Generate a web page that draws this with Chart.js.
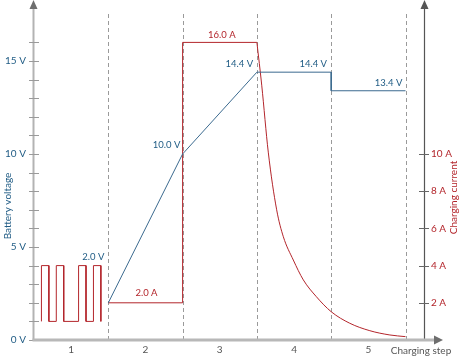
<!DOCTYPE html>
<html><head><meta charset="utf-8">
<script src="https://cdn.jsdelivr.net/npm/chart.js@4"></script>
<style>html,body{margin:0;padding:0;background:#fff}#wrap{width:460px;height:356px;position:relative}</style>
</head><body><div id="wrap"><canvas id="c"></canvas></div>
<script>
// ---- data ----
const steps = ['1','2','3','4','5'];
const voltageX = [1, 2, 3, 4, 4, 5];
const voltageV = [2.0, 10.0, 14.4, 14.4, 13.4, 13.4];
const pulseX = [0.1,0.1,0.2,0.2,0.3,0.3,0.4,0.4,0.6,0.6,0.7,0.7,0.8,0.8,0.9,0.9];
const pulseA = [1,4,4,1,1,4,4,1,1,4,4,1,1,4,4,1];
const currentX = [1, 2, 2, 3];
const currentA = [2, 2, 16, 16];
const decayX = [3, 3.065, 3.153, 3.266, 3.356, 3.49, 3.625, 3.8, 4.0, 4.25, 4.52, 4.79, 5.0];
const decayA = [16, 13.7, 10.1, 7.0, 5.55, 4.3, 3.23, 2.33, 1.52, 0.9, 0.5, 0.27, 0.18];
const voltTicks = [0, 5, 10, 15];
const voltMinorTicks = [0,1,2,3,4,5,6,7,8,9,10,11,12,13,14,15,16];
const ampTicks = [2, 4, 6, 8, 10];
const stepBounds = [1, 2, 3, 4, 5];
const voltLabels = ['2.0 V', '10.0 V', '14.4 V', '14.4 V', '13.4 V'];
const ampLabels = ['2.0 A', '16.0 A'];

const BLUE = '#1f5b84', BLUE_LINE = '#3b6a8f', RED = '#b3252b', GRAY_TXT = '#555';
const FONT = 'Lato, "Open Sans", sans-serif';
const pts = (xs, ys) => xs.map((x, i) => ({x, y: ys[i]}));

const decor = {
  id: 'decor',
  beforeDatasetsDraw(chart) {
    const {ctx, scales: {x, y}} = chart;
    ctx.save();
    ctx.strokeStyle = '#9a9a9a'; ctx.lineWidth = 1; ctx.setLineDash([4, 3]);
    stepBounds.forEach(b => {
      const px = Math.round(x.getPixelForValue(b)) + 0.5;
      ctx.beginPath(); ctx.moveTo(px, 14); ctx.lineTo(px, y.getPixelForValue(0)); ctx.stroke();
    });
    ctx.restore();
  },
  afterDatasetsDraw(chart) {
    const {ctx, scales: {x, y, y1}} = chart;
    const x0 = x.getPixelForValue(0), yb = y.getPixelForValue(0);
    const xr = x.getPixelForValue(x.max);
    ctx.save();
    // left axis
    ctx.strokeStyle = '#b3b3b3'; ctx.lineWidth = 2;
    ctx.beginPath(); ctx.moveTo(x0 - 0.5, yb); ctx.lineTo(x0 - 0.5, 6); ctx.stroke();
    ctx.fillStyle = '#6e6e6e';
    ctx.beginPath(); ctx.moveTo(x0 - 0.5, 0); ctx.lineTo(x0 - 4.5, 9); ctx.lineTo(x0 + 3.5, 9); ctx.closePath(); ctx.fill();
    // left ticks
    ctx.strokeStyle = '#9a9a9a'; ctx.lineWidth = 1;
    voltMinorTicks.forEach(v => {
      const py = Math.round(y.getPixelForValue(v)) + 0.5;
      ctx.beginPath(); ctx.moveTo(x0 - 5, py); ctx.lineTo(x0 + 5, py); ctx.stroke();
    });
    // right axis
    ctx.strokeStyle = '#555'; ctx.lineWidth = 1.2;
    ctx.beginPath(); ctx.moveTo(xr + 0.5, yb); ctx.lineTo(xr + 0.5, 6); ctx.stroke();
    ctx.fillStyle = '#555';
    ctx.beginPath(); ctx.moveTo(xr + 0.5, 0); ctx.lineTo(xr - 3.5, 9); ctx.lineTo(xr + 4.5, 9); ctx.closePath(); ctx.fill();
    ampTicks.forEach(v => {
      const py = Math.round(y1.getPixelForValue(v)) + 0.5;
      ctx.strokeStyle = '#666'; ctx.lineWidth = 1;
      ctx.beginPath(); ctx.moveTo(xr - 5, py); ctx.lineTo(xr + 5, py); ctx.stroke();
    });
    // x axis
    ctx.strokeStyle = '#b8b8b8'; ctx.lineWidth = 3;
    ctx.beginPath(); ctx.moveTo(x0 - 1.5, yb); ctx.lineTo(xr + 12, yb); ctx.stroke();
    ctx.fillStyle = '#6e6e6e';
    ctx.beginPath(); ctx.moveTo(xr + 19, yb); ctx.lineTo(xr + 10, yb - 4.5); ctx.lineTo(xr + 10, yb + 4.5); ctx.closePath(); ctx.fill();
    // titles
    ctx.font = '10px ' + FONT; ctx.textAlign = 'center'; ctx.textBaseline = 'middle';
    ctx.fillStyle = GRAY_TXT; ctx.fillText('Charging step', 421, 350.5);
    ctx.save(); ctx.translate(7.5, 206); ctx.rotate(-Math.PI / 2);
    ctx.fillStyle = BLUE; ctx.fillText('Battery voltage', 0, 0); ctx.restore();
    ctx.save(); ctx.translate(453.5, 197.5); ctx.rotate(-Math.PI / 2);
    ctx.fillStyle = RED; ctx.fillText('Charging current', 0, 0); ctx.restore();
    // value labels
    ctx.font = '9.5px ' + FONT;
    const vOff = [[-15, -46], [-16, -9], [-17.5, -8.5], [-18, -8.5], [-17, -8.3]];
    const vIdx = [0, 1, 2, 3, 5];
    ctx.fillStyle = BLUE;
    vIdx.forEach((k, i) => {
      const px = x.getPixelForValue(voltageX[k]), py = y.getPixelForValue(voltageV[k]);
      ctx.fillText(voltLabels[i], px + vOff[i][0], py + vOff[i][1]);
    });
    ctx.fillStyle = RED;
    const a1x = x.getPixelForValue((currentX[0] + currentX[1]) / 2), a1y = y1.getPixelForValue(currentA[0]);
    ctx.fillText(ampLabels[0], a1x + 1, a1y - 10);
    const a2x = x.getPixelForValue((currentX[2] + currentX[3]) / 2), a2y = y1.getPixelForValue(currentA[2]);
    ctx.fillText(ampLabels[1], a2x + 2, a2y - 7.5);
    ctx.restore();
  }
};

const noPad = s => { s.paddingTop = 0; s.paddingBottom = 0; s.paddingLeft = 0; s.paddingRight = 0; };
const YMAX = 338 / 18.6;
new Chart(document.getElementById('c'), {
  type: 'line',
  data: {
    datasets: [
      {data: pts(voltageX, voltageV), borderColor: BLUE_LINE, borderWidth: 1, pointRadius: 0, yAxisID: 'y', tension: 0},
      {data: pts(pulseX, pulseA), borderColor: RED, borderWidth: 1, pointRadius: 0, yAxisID: 'y1', tension: 0},
      {data: pts(currentX, currentA), borderColor: RED, borderWidth: 1, pointRadius: 0, yAxisID: 'y1', tension: 0},
      {data: pts(decayX, decayA), borderColor: RED, borderWidth: 1, pointRadius: 0, yAxisID: 'y1', cubicInterpolationMode: 'monotone'}
    ]
  },
  options: {
    responsive: true, maintainAspectRatio: false, animation: false,
    layout: {padding: {top: 2, left: 0, right: 0, bottom: 0}, autoPadding: false},
    plugins: {legend: {display: false}, tooltip: {enabled: false}},
    scales: {
      x: {
        type: 'linear', min: 0, max: 390 / 74.3,
        grid: {display: false, drawTicks: false}, border: {display: false},
        afterBuildTicks: s => { s.ticks = steps.map((_, i) => ({value: i + 0.5})); },
        afterFit: s => { s.height = 16; noPad(s); },
        ticks: {color: GRAY_TXT, font: {size: 10, family: FONT}, padding: 4, maxRotation: 0, autoSkip: false,
          callback: v => steps[Math.round(v - 0.5)]}
      },
      y: {
        position: 'left', min: 0, max: YMAX,
        grid: {display: false, drawTicks: false}, border: {display: false},
        afterBuildTicks: s => { s.ticks = voltTicks.map(v => ({value: v})); },
        afterFit: s => { s.width = 34; noPad(s); },
        ticks: {color: BLUE, font: {size: 10, family: FONT}, padding: 8, callback: v => v + ' V'}
      },
      y1: {
        position: 'right', min: 0, max: YMAX,
        grid: {display: false, drawTicks: false}, border: {display: false},
        afterBuildTicks: s => { s.ticks = ampTicks.map(v => ({value: v})); },
        afterFit: s => { s.width = 36; noPad(s); },
        ticks: {color: RED, font: {size: 10, family: FONT}, padding: 7, callback: v => v + ' A'}
      }
    }
  },
  plugins: [decor]
});
</script></body></html>
